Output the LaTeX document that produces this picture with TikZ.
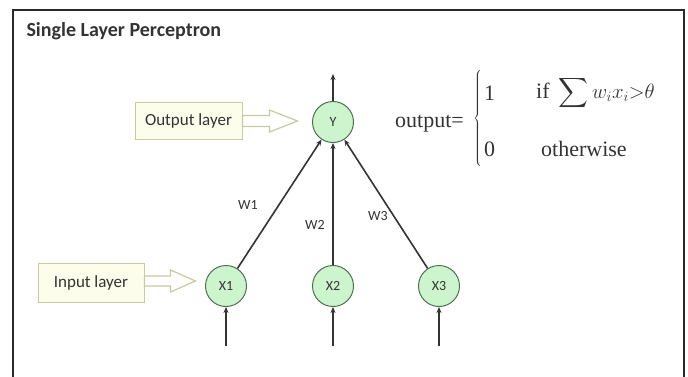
\documentclass[tikz,border=0pt]{standalone}
\usepackage{amsmath}
\usepackage{fontspec}
\setmainfont{Carlito}
\newfontfamily\formulafont{Liberation Serif}
\usetikzlibrary{arrows.meta}
\definecolor{frameline}{HTML}{2A2A2A}
\definecolor{nodefill}{HTML}{CDF5CD}
\definecolor{nodeline}{HTML}{4F6F4F}
\definecolor{boxfill}{HTML}{FDFDEB}
\definecolor{boxline}{HTML}{C9C9A2}
\definecolor{ink}{HTML}{333333}
\tikzset{
  neuron/.style={circle, draw=nodeline, line width=1pt, fill=nodefill,
    minimum size=41pt, inner sep=0pt, font=\fontsize{14}{15}\selectfont, text=ink},
  layerbox/.style={draw=boxline, line width=1pt, fill=boxfill, inner sep=0pt,
    font=\fontsize{17}{18}\selectfont, text=ink},
  hollow/.style={draw=boxline, line width=1.2pt, fill=white, line join=miter},
  link/.style={draw=ink, line width=1.6pt, -{Stealth[length=6pt,width=5pt]}},
  weight/.style={font=\fontsize{14}{15}\selectfont, text=ink},
  rule/.style={anchor=west, inner sep=1pt, font=\formulafont\fontsize{22}{24}\selectfont, text=ink},
}
\begin{document}
\begin{tikzpicture}[x=1pt,y=-1pt]
\useasboundingbox (0,0) rectangle (688,376);
% frame
\draw[frameline, line width=2.5pt] (13,380) -- (13,10) -- (684,10) -- (684,380);
% title
\node[anchor=west, font=\fontsize{20}{22}\selectfont\bfseries, text=ink] (title) at (23,31) {Single Layer Perceptron};

% neurons
\node[neuron] (Y) at (333,122) {Y};
\node[neuron] (X1) at (226,286) {X1};
\node[neuron] (X2) at (333,286) {X2};
\node[neuron] (X3) at (439,286) {X3};

% output arrow and input arrows
\coordinate (out) at (333,74);
\coordinate (in1) at (226,346);
\coordinate (in2) at (333,346);
\coordinate (in3) at (439,346);
\draw[link] (Y) -- (out);
\draw[link] (in1) -- (X1);
\draw[link] (in2) -- (X2);
\draw[link] (in3) -- (X3);

% weighted connections
\draw[link] (X1) -- (Y);
\draw[link] (X2) -- (Y);
\draw[link] (X3) -- (Y);
\node[weight] (w1) at (248,205) {W1};
\node[weight] (w2) at (315,225) {W2};
\node[weight] (w3) at (378,216) {W3};

% layer labels
\node[layerbox, minimum width=107pt, minimum height=37pt] (outbox) at (188.5,120.5) {Output layer};
\node[layerbox, minimum width=106pt, minimum height=39pt] (inbox) at (91,282.5) {Input layer};

% hollow block arrows pointing at the layers
\draw[hollow] ([yshift=-0.5pt]outbox.east) ++(0,-5.5) -- ++(27,0) -- ++(0,-5.5)
  -- ++(28,11) -- ++(-28,11) -- ++(0,-5.5) -- ++(-27,0) -- cycle;
\draw[hollow] ([yshift=1.5pt]inbox.east) ++(0,-5) -- ++(26,0) -- ++(0,-6)
  -- ++(25,11) -- ++(-25,11) -- ++(0,-6) -- ++(-26,0) -- cycle;

% activation rule
\node[rule] (lhs) at (394,124) {output=};
\node[anchor=west, text=ink, inner sep=0pt] (brace) at (473,119) {$\left\{\vrule height 46pt depth 46pt width 0pt\right.$};
\node[rule] (one) at (483,93) {1};
\node[rule] (cond) at (535,93)
  {if\, $\displaystyle\sum w_i x_i{>}\theta$};
\node[rule] (zero) at (483,149) {0};
\node[rule] (other) at (540,149) {otherwise};
\end{tikzpicture}
\end{document}
